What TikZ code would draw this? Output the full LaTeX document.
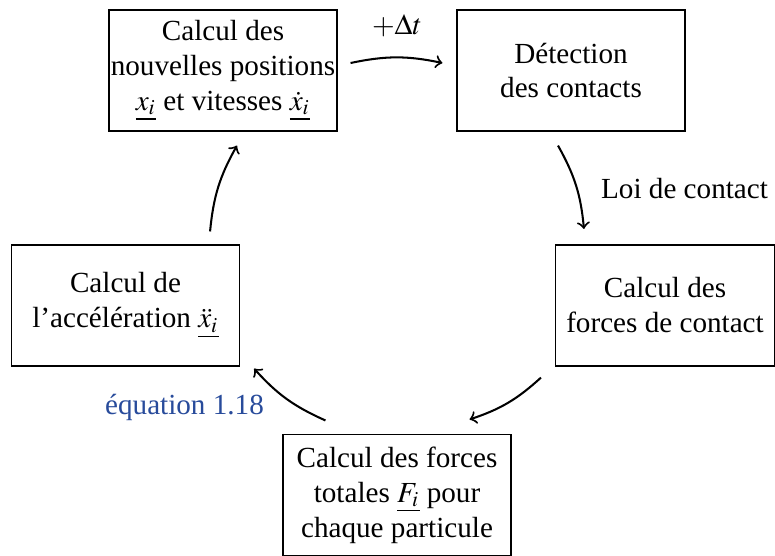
\documentclass[tikz,border=0pt]{standalone}
\usepackage{mathptmx}
\usepackage{fontspec}
\setmainfont{Liberation Serif}
\usetikzlibrary{calc}
\definecolor{bleulien}{RGB}{40,75,155}
\tikzset{
	etape/.style={draw, line width=0.4pt, align=center, minimum width=78.2pt, inner xsep=0.5pt, inner ysep=2pt, minimum height=41.5pt},
	fleche/.style={->, line width=0.7pt},
}

\begin{document}
\begin{tikzpicture}[x=0.343pt, y=0.343pt]
			%%%%% START %%%%%
			\useasboundingbox (0, 0) rectangle (775, 555);
			
			\node[etape] (pos) at (223, 484.5) {Calcul des\\nouvelles positions\\$\underline{x_i}$ et vitesses $\underline{\dot{x}_i}$};
			\node[etape] (det) at (571, 484.5) {Détection\\des contacts};
			\node[etape, minimum width=75.1pt] (fcont) at (665, 249.5) {Calcul des\\forces de contact};
			\node[etape] (ftot) at (397, 60) {Calcul des forces\\totales $\underline{F_i}$ pour\\chaque particule};
			\node[etape] (acc) at (125.5, 249.5) {Calcul de\\l’accélération $\underline{\ddot{x}_i}$};
			
			\node (dt) at (397, 529) {$+\Delta t$};
			\node (loi) at (684.5, 366) {Loi de contact};
			\node[text=bleulien] (eq) at (184.5, 148) {équation 1.18};
			
			\draw[fleche] ([shift={(13, 7.5)}]pos.east) to[bend left=12] ([shift={(-14, 7.5)}]det.west);
			\draw[fleche] ([shift={(-13, -14)}]det.south) to[bend left=12] ([shift={(29, 15.5)}]fcont.north west);
			\draw[fleche] ([shift={(-14, -11)}]fcont.south west) to[bend left=12] ([shift={(-42, 14.5)}]ftot.north east);
			\draw[fleche] ([shift={(43, 13.5)}]ftot.north west) to[bend left=12] ([shift={(14, -2)}]acc.south east);
			\draw[fleche] ([shift={(-30, 13)}]acc.north east) to[bend left=12] ([shift={(14, -14)}]pos.south);
			
			%%%%% END %%%%%
\end{tikzpicture}
\end{document}
